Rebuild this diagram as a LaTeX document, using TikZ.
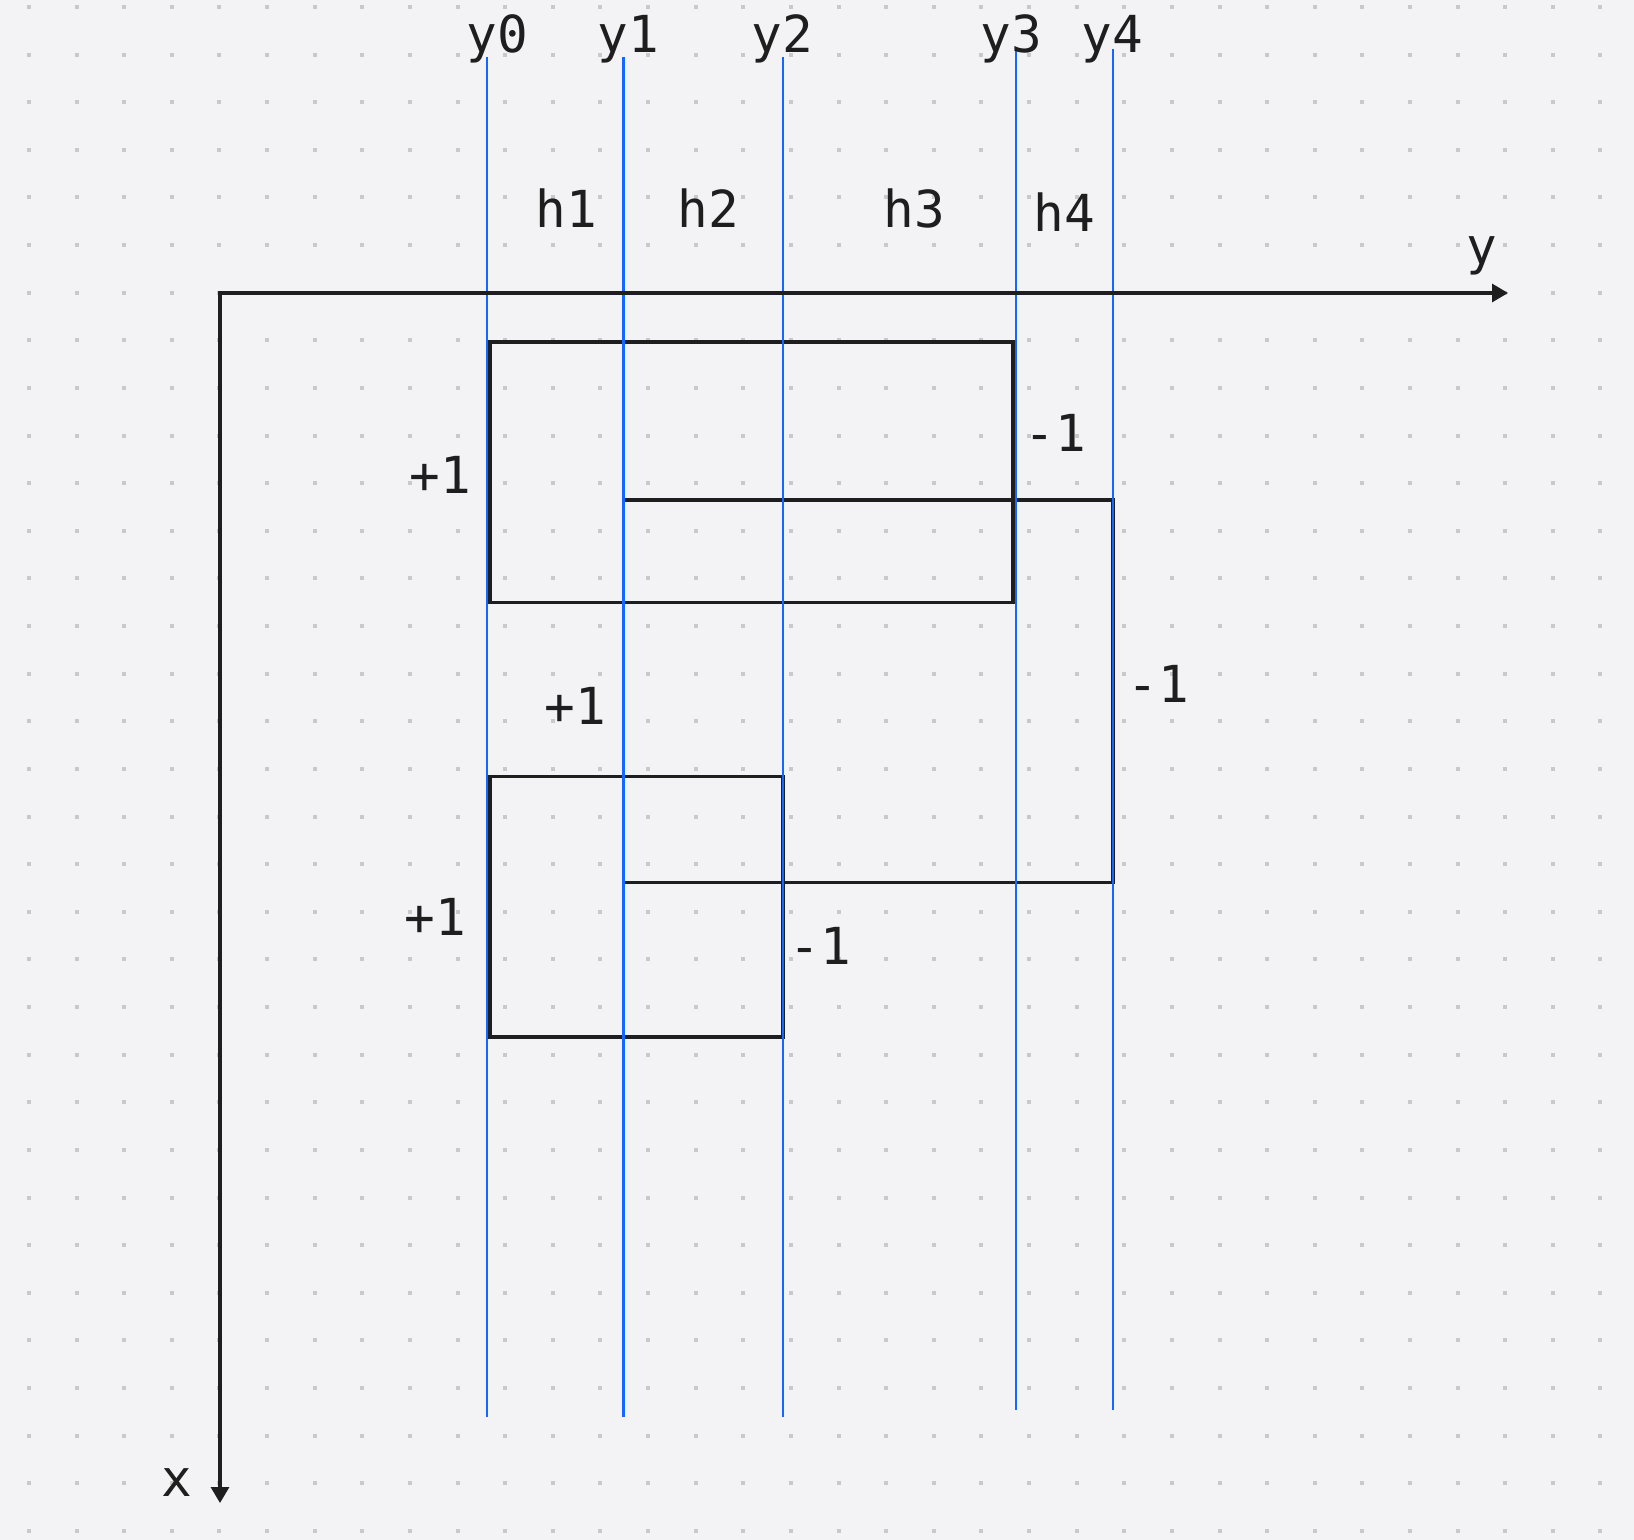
\documentclass[tikz,border=0pt]{standalone}
\usepackage{fontspec}
\setmonofont{DejaVu Sans Mono}
\usetikzlibrary{arrows.meta}
\definecolor{bg}{HTML}{F3F3F5}
\definecolor{dotc}{HTML}{C9C9C9}
\definecolor{ink}{HTML}{1E1E1E}
\definecolor{blueln}{HTML}{1467FF}
\begin{document}
\begin{tikzpicture}[x=0.5pt,y=-0.5pt,
  lbl/.style={font=\ttfamily\fontsize{25.5}{30}\selectfont, text=ink, inner sep=0pt, anchor=base},
  guide/.style={draw=blueln, line width=1.45pt},
  box/.style={draw=ink, line width=1.7pt},
  axis/.style={draw=ink, line width=1.6pt, line join=miter,
    {Triangle[length=7.9pt,width=8.9pt]}-{Triangle[length=7.9pt,width=8.9pt]}}]
\fill[bg] (0,0) rectangle (1634,1540);
\useasboundingbox (0,0) rectangle (1634,1540);
\foreach \i in {0,...,33} {
  \foreach \j in {0,...,32} {
    \fill[dotc] ({29+47.62*\i-2},{7+47.62*\j-2}) rectangle ++(4,4);
  }
}
% blue guide lines
\coordinate (g0t) at (487,57);    \coordinate (g0b) at (487,1417);
\coordinate (g1t) at (623.5,57);  \coordinate (g1b) at (623.5,1417);
\coordinate (g2t) at (783,57);    \coordinate (g2b) at (783,1417);
\coordinate (g3t) at (1016,49);   \coordinate (g3b) at (1016,1410);
\coordinate (g4t) at (1113,49);   \coordinate (g4b) at (1113,1410);
% rectangles
\coordinate (r1a) at (490,342);   \coordinate (r1b) at (1013,602.5);
\coordinate (r2a) at (623.5,500); \coordinate (r2b) at (1113,882.5);
\coordinate (r3a) at (490,776.5); \coordinate (r3b) at (783,1037);
\draw[box] (r1a) rectangle (r1b);
\draw[box] (r2a) rectangle (r2b);
\draw[box] (r3a) rectangle (r3b);
\draw[guide] (g0t) -- (g0b);
\draw[guide] (g1t) -- (g1b);
\draw[guide] (g2t) -- (g2b);
\draw[guide] (g3t) -- (g3b);
\draw[guide] (g4t) -- (g4b);
% axes
\coordinate (O) at (220,293);
\coordinate (Yend) at (1508,293);
\coordinate (Xend) at (220,1503);
\draw[axis] (Yend) -- (O) -- (Xend);
\node[lbl] (ylab) at (1482,265) {y};
\node[lbl] (xlab) at (177,1496) {x};
% top labels
\node[lbl] (l0) at (497,53) {y0};
\node[lbl] (l1) at (628,53) {y1};
\node[lbl] (l2) at (782,53) {y2};
\node[lbl] (l3) at (1011,53) {y3};
\node[lbl] (l4) at (1112,53) {y4};
\node[lbl] (h1) at (566,228) {h1};
\node[lbl] (h2) at (708,228) {h2};
\node[lbl] (h3) at (914,228) {h3};
\node[lbl] (h4) at (1064,232) {h4};
% signs
\node[lbl] (p1) at (440,494) {+1};
\node[lbl] (m1) at (1055,452) {-1};
\node[lbl] (p2) at (575,724) {+1};
\node[lbl] (m2) at (1158,702) {-1};
\node[lbl] (p3) at (435,935) {+1};
\node[lbl] (m3) at (820,964) {-1};
\end{tikzpicture}
\end{document}
